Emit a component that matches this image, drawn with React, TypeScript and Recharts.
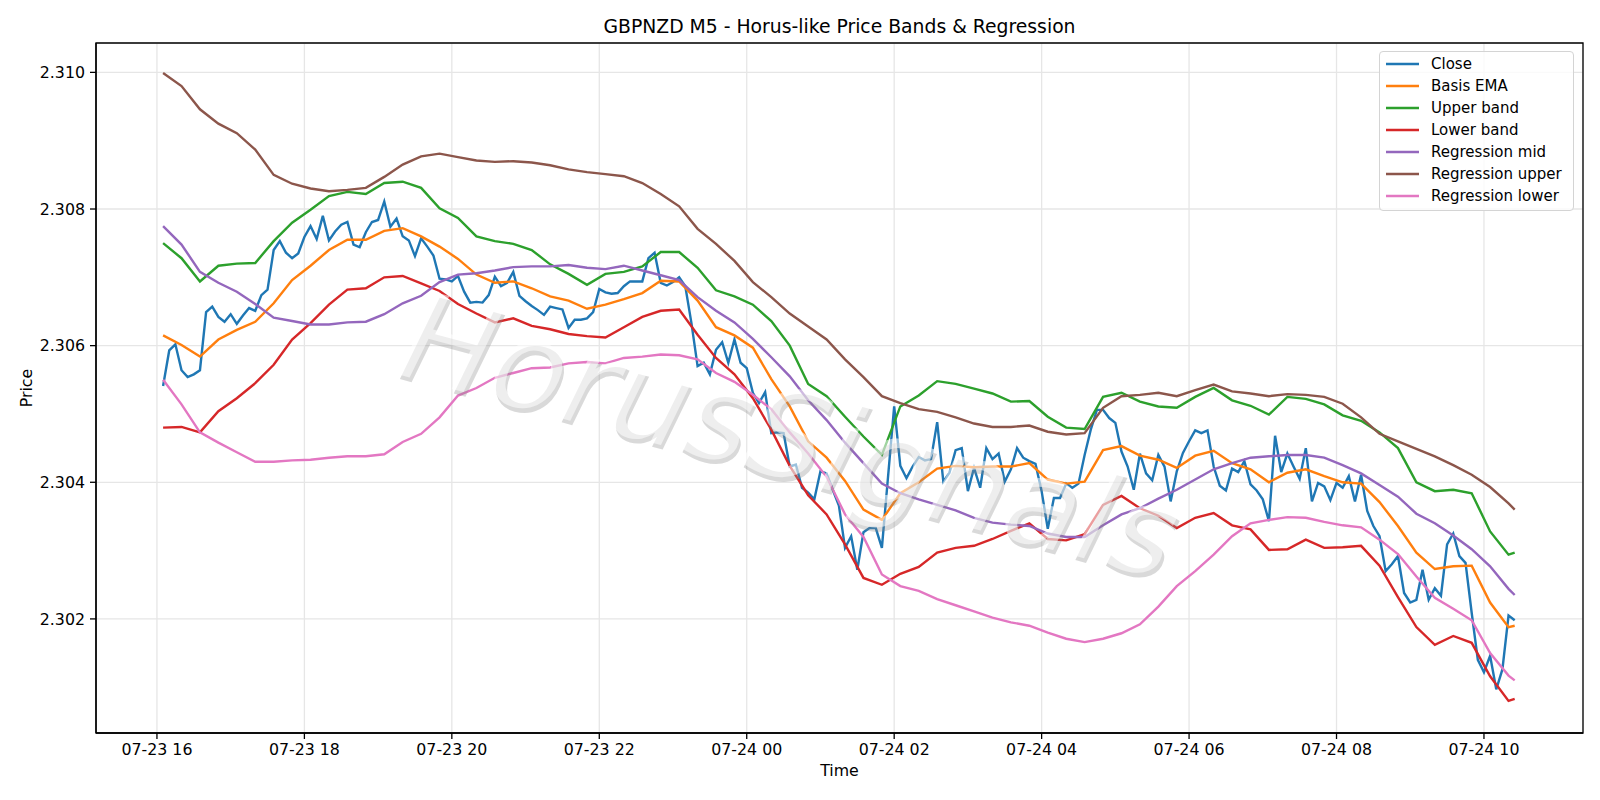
import { CartesianGrid, Legend, Line, LineChart, ReferenceArea, XAxis, YAxis } from "recharts";

// M5 closes, one per bar from 07-23 16:05 (bar 1) to 07-24 10:25 (bar 221)
const closeValues = [
  2.30541, 2.30593, 2.30602, 2.30564, 2.30554, 2.30558, 2.30564, 2.30649, 2.30657, 2.30642,
  2.30635, 2.30646, 2.30632, 2.30644, 2.30655, 2.30651, 2.30674, 2.30682, 2.3074, 2.30753,
  2.30736, 2.30728, 2.30735, 2.30759, 2.30775, 2.30756, 2.3079, 2.30754, 2.30767, 2.30777,
  2.30781, 2.30748, 2.30744, 2.30766, 2.30781, 2.30784, 2.30811, 2.30774, 2.30786, 2.3076,
  2.30754, 2.30731, 2.30757, 2.30745, 2.30732, 2.30698, 2.30697, 2.30694, 2.30702, 2.30679,
  2.30663, 2.30664, 2.30663, 2.30674, 2.30701, 2.30687, 2.30692, 2.30708, 2.30673, 2.30665,
  2.30658, 2.30652, 2.30645, 2.30657, 2.30655, 2.30653, 2.30626, 2.30638, 2.30638, 2.3064,
  2.30649, 2.30683, 2.30678, 2.30676, 2.30677, 2.30687, 2.30694, 2.30694, 2.30694, 2.30728,
  2.30736, 2.30692, 2.30688, 2.30693, 2.307, 2.30687, 2.30633, 2.3057, 2.30575, 2.30558,
  2.30594, 2.30605, 2.30575, 2.30609, 2.30575, 2.30567, 2.30531, 2.30516, 2.30532, 2.30472,
  2.30473, 2.30472, 2.30423, 2.30426, 2.30392, 2.30385, 2.30375, 2.30416, 2.30413, 2.30389,
  2.30366, 2.30304, 2.30321, 2.30272, 2.30327, 2.30333, 2.30333, 2.30304, 2.30408, 2.30511,
  2.30424, 2.30406, 2.30423, 2.30437, 2.30432, 2.30434, 2.30488, 2.30401, 2.30414, 2.30447,
  2.3045, 2.30387, 2.30421, 2.30392, 2.3045, 2.30434, 2.30442, 2.30401, 2.30419, 2.3045,
  2.30436, 2.30431, 2.30427, 2.30387, 2.30332, 2.30377, 2.30377, 2.30398, 2.30392, 2.30398,
  2.3044, 2.30477, 2.30506, 2.30506, 2.30494, 2.30487, 2.30445, 2.30423, 2.30389, 2.30442,
  2.30413, 2.30403, 2.3044, 2.30423, 2.30372, 2.30416, 2.30443, 2.3046, 2.30476, 2.30472,
  2.30476, 2.30423, 2.30395, 2.30388, 2.3042, 2.30415, 2.30431, 2.30397, 2.30388, 2.30375,
  2.30343, 2.30468, 2.30415, 2.30442, 2.30423, 2.30405, 2.3045, 2.30372, 2.30399, 2.30394,
  2.30374, 2.30399, 2.30392, 2.30409, 2.30372, 2.30411, 2.30358, 2.30336, 2.30321, 2.3027,
  2.3028, 2.30292, 2.30238, 2.30224, 2.30228, 2.30272, 2.30228, 2.30245, 2.30234, 2.30309,
  2.30325, 2.30292, 2.30282, 2.30209, 2.3014, 2.30122, 2.30146, 2.30097, 2.30126, 2.30205,
  2.30198,
];

// bar numbers at which the smooth band / regression lines were read
const bandBars = [
  1, 4, 7, 10, 13, 16, 19, 22, 25, 28, 31, 34, 37, 40, 43, 46, 49, 52, 55, 58,
  61, 64, 67, 70, 73, 76, 79, 82, 85, 88, 91, 94, 97, 100, 103, 106, 109, 112, 115, 118,
  121, 124, 127, 130, 133, 136, 139, 142, 145, 148, 151, 154, 157, 160, 163, 166, 169, 172, 175, 178,
  181, 184, 187, 190, 193, 196, 199, 202, 205, 208, 211, 214, 217, 220, 221,
];

const basisEma = [
  2.30615, 2.30601, 2.30584, 2.30609, 2.30623, 2.30635, 2.30662, 2.30696, 2.30717, 2.3074,
  2.30755, 2.30755, 2.30768, 2.30772, 2.3076, 2.30745, 2.30727, 2.30704, 2.30692, 2.30694,
  2.30684, 2.30672, 2.30666, 2.30654, 2.3066, 2.30668, 2.30677, 2.30695, 2.30694, 2.30666,
  2.30627, 2.30615, 2.30597, 2.30551, 2.30511, 2.3046, 2.30436, 2.30402, 2.3036, 2.30345,
  2.30384, 2.304, 2.3042, 2.30424, 2.30422, 2.30423, 2.30423, 2.30428, 2.30404, 2.30398,
  2.30401, 2.30447, 2.30453, 2.30439, 2.30433, 2.30421, 2.30439, 2.30446, 2.30428, 2.30419,
  2.304, 2.30414, 2.30419, 2.30409, 2.304, 2.30398, 2.30371, 2.30336, 2.30297, 2.30273,
  2.30277, 2.30278, 2.30224, 2.30188, 2.3019,
];

const upperBand = [
  2.3075, 2.30728, 2.30694, 2.30717, 2.3072, 2.30721, 2.30753, 2.3078, 2.30799, 2.30819,
  2.30825, 2.30822, 2.30838, 2.3084, 2.30831, 2.30801, 2.30787, 2.3076, 2.30753, 2.30749,
  2.3074, 2.30719, 2.30705, 2.30689, 2.30705, 2.30708, 2.30716, 2.30737, 2.30737, 2.30714,
  2.30681, 2.30672, 2.3066, 2.30636, 2.306, 2.30544, 2.30526, 2.30496, 2.30467, 2.3044,
  2.30511, 2.30527, 2.30548, 2.30544, 2.30537, 2.3053, 2.30518, 2.30519, 2.30496, 2.3048,
  2.30478, 2.30525, 2.30531, 2.30518, 2.30511, 2.30509, 2.30525, 2.30538, 2.3052, 2.30512,
  2.30499, 2.30525, 2.30522, 2.30514, 2.30498, 2.3049, 2.30473, 2.3045, 2.304, 2.30387,
  2.30389, 2.30384, 2.30328, 2.30294, 2.30297,
];

const lowerBand = [
  2.3048, 2.30481, 2.30473, 2.30504, 2.30523, 2.30545, 2.30572, 2.30609, 2.30633, 2.3066,
  2.30682, 2.30684, 2.307, 2.30702, 2.30691, 2.3068, 2.30661, 2.30647, 2.30634, 2.3064,
  2.30629, 2.30624, 2.30617, 2.30614, 2.30612, 2.30627, 2.30642, 2.30651, 2.30653, 2.30616,
  2.30582, 2.30558, 2.30523, 2.30477, 2.30424, 2.30381, 2.30353, 2.30309, 2.3026, 2.3025,
  2.30266, 2.30276, 2.30297, 2.30304, 2.30307, 2.30317, 2.30329, 2.3034, 2.30317, 2.30315,
  2.30324, 2.30367, 2.3038, 2.30362, 2.30351, 2.30333, 2.30348, 2.30355, 2.30337, 2.30331,
  2.30301, 2.30302, 2.30316, 2.30304, 2.30305, 2.30307, 2.30278, 2.30232, 2.30188, 2.30162,
  2.30175, 2.30165, 2.30116, 2.3008, 2.30083,
];

const regressionMid = [
  2.30775, 2.30748, 2.30708, 2.30692, 2.30679, 2.30661, 2.30641, 2.30636, 2.30631, 2.30631,
  2.30634, 2.30635, 2.30646, 2.30662, 2.30673, 2.30693, 2.30704, 2.30706, 2.3071, 2.30715,
  2.30716, 2.30716, 2.30718, 2.30714, 2.30712, 2.30717, 2.3071, 2.30703, 2.30696, 2.30671,
  2.30651, 2.30634, 2.3061, 2.30583, 2.30555, 2.3052, 2.30491, 2.30458, 2.30428, 2.30398,
  2.30384, 2.30375, 2.30367, 2.30359, 2.30348, 2.30341, 2.30338, 2.30336, 2.30325, 2.3032,
  2.3032, 2.30337, 2.30353, 2.30362, 2.30376, 2.30389, 2.30404, 2.30419, 2.30428, 2.30436,
  2.30438, 2.3044, 2.3044, 2.30436, 2.30425, 2.30413, 2.30396, 2.30379, 2.30354, 2.3034,
  2.30322, 2.30302, 2.30277, 2.30244, 2.30235,
];

const regressionUpper = [
  2.30999, 2.3098, 2.30946, 2.30925, 2.30911, 2.30887, 2.3085, 2.30837, 2.3083, 2.30826,
  2.30828, 2.30831, 2.30847, 2.30865, 2.30877, 2.30881, 2.30876, 2.30871, 2.30869, 2.3087,
  2.30868, 2.30864, 2.30858, 2.30854, 2.30851, 2.30848, 2.30838, 2.30822, 2.30804, 2.30771,
  2.30749, 2.30724, 2.30693, 2.30671, 2.30647, 2.30628, 2.30609, 2.3058, 2.30554, 2.30526,
  2.30516, 2.30507, 2.30503, 2.30495, 2.30486, 2.30481, 2.30481, 2.30483, 2.30474, 2.3047,
  2.30472, 2.30509, 2.30526, 2.30528, 2.30531, 2.30526, 2.30535, 2.30543, 2.30533, 2.3053,
  2.30526, 2.30529, 2.30528, 2.30525, 2.30515, 2.30495, 2.30471, 2.3046, 2.30449, 2.30438,
  2.30425, 2.30411, 2.30393, 2.30369, 2.3036,
];

const regressionLower = [
  2.3055, 2.30514, 2.30473, 2.30458, 2.30444, 2.3043, 2.3043, 2.30432, 2.30433, 2.30436,
  2.30438, 2.30438, 2.30441, 2.30459, 2.30471, 2.30495, 2.30527, 2.30538, 2.30553, 2.3056,
  2.30567, 2.30568, 2.30574, 2.30576, 2.30574, 2.30582, 2.30584, 2.30587, 2.30586, 2.3058,
  2.3056, 2.30547, 2.30528, 2.30507, 2.30473, 2.30442, 2.30408, 2.30353, 2.3032, 2.30265,
  2.30248, 2.30241, 2.30229, 2.3022, 2.30211, 2.30202, 2.30195, 2.3019, 2.3018, 2.30171,
  2.30166, 2.30171, 2.30179, 2.30192, 2.30218, 2.30248, 2.3027, 2.30294, 2.30321, 2.3034,
  2.30345, 2.30349, 2.30348, 2.30342, 2.30337, 2.30334, 2.30316, 2.30295, 2.30262, 2.30231,
  2.30215, 2.30198, 2.3015, 2.30117, 2.3011,
];

// x is minutes after 07-23 16:00
const xTicks = [0, 120, 240, 360, 480, 600, 720, 840, 960, 1080];
const xTickLabels = [
  "07-23 16", "07-23 18", "07-23 20", "07-23 22", "07-24 00",
  "07-24 02", "07-24 04", "07-24 06", "07-24 08", "07-24 10",
];
const yTicks = [2.302, 2.304, 2.306, 2.308, 2.31];

const BAR_MINUTES = 5;
const X_DOMAIN: [number, number] = [-49.6, 1160.6];
const Y_DOMAIN: [number, number] = [2.30033, 2.31043];
const FONT = '"DejaVu Sans", "Liberation Sans", sans-serif';

const closeData = closeValues.map((close, i) => ({ t: (i + 1) * BAR_MINUTES, close }));
const bandData = bandBars.map((bar, i) => ({
  t: bar * BAR_MINUTES,
  basis: basisEma[i],
  upper: upperBand[i],
  lower: lowerBand[i],
  regMid: regressionMid[i],
  regUpper: regressionUpper[i],
  regLower: regressionLower[i],
}));

const series = [
  { key: "close", name: "Close", color: "#1f77b4", data: closeData },
  { key: "basis", name: "Basis EMA", color: "#ff7f0e", data: bandData },
  { key: "upper", name: "Upper band", color: "#2ca02c", data: bandData },
  { key: "lower", name: "Lower band", color: "#d62728", data: bandData },
  { key: "regMid", name: "Regression mid", color: "#9467bd", data: bandData },
  { key: "regUpper", name: "Regression upper", color: "#8c564b", data: bandData },
  { key: "regLower", name: "Regression lower", color: "#e377c2", data: bandData },
];

const spine = { stroke: "#000", strokeWidth: 1.3 };
const tickStyle = { fill: "#000", fontSize: 15.8, fontFamily: FONT };

const LegendBox = () => (
  <div
    style={{
      boxSizing: "border-box",
      width: 195,
      height: 160,
      paddingTop: 1,
      background: "rgba(255,255,255,0.8)",
      border: "1px solid #d4d4d4",
      borderRadius: 4,
      fontFamily: FONT,
      fontSize: 15,
      color: "#000",
    }}
  >
    {series.map((s) => (
      <div key={s.key} style={{ display: "flex", alignItems: "center", height: 22 }}>
        <svg width={45} height={22} style={{ flex: "none" }}>
          <line x1={6} x2={39} y1={11} y2={11} stroke={s.color} strokeWidth={2.4} />
        </svg>
        <span style={{ marginLeft: 6, whiteSpace: "nowrap" }}>{s.name}</span>
      </div>
    ))}
  </div>
);

const Watermark = () => (
  <g transform="translate(790 436) rotate(15)" style={{ fontFamily: FONT, fontStyle: "italic" }}>
    <text x={3} y={4} textAnchor="middle" dominantBaseline="central" fontSize={122} fill="#888" fillOpacity={0.32}>
      HorusSignals
    </text>
    <text x={0} y={0} textAnchor="middle" dominantBaseline="central" fontSize={122} fill="#fff" fillOpacity={0.55}>
      HorusSignals
    </text>
  </g>
);

const App = () => {
  return (
    <div style={{ position: "absolute", left: 0, top: 0, width: 1600, height: 800, background: "#fff", fontFamily: FONT }}>
      <LineChart width={1600} height={800} margin={{ top: 43, right: 17, bottom: 0, left: 0 }}>
        <CartesianGrid stroke="#e6e6e6" strokeWidth={1.3} />
        <XAxis
          type="number"
          dataKey="t"
          domain={X_DOMAIN}
          allowDataOverflow
          ticks={xTicks}
          tickFormatter={(v: number) => xTickLabels[xTicks.indexOf(v)] ?? ""}
          height={67}
          tick={tickStyle}
          tickLine={spine}
          axisLine={spine}
          tickSize={6}
          tickMargin={5}
          interval={0}
        />
        <YAxis
          type="number"
          domain={Y_DOMAIN}
          allowDataOverflow
          ticks={yTicks}
          tickFormatter={(v: number) => v.toFixed(3)}
          width={96}
          tick={tickStyle}
          tickLine={spine}
          axisLine={spine}
          tickSize={6}
          tickMargin={5}
          interval={0}
        />
        {series.map((s) => (
          <Line
            key={s.key}
            data={s.data}
            dataKey={s.key}
            name={s.name}
            type="linear"
            stroke={s.color}
            strokeWidth={2.4}
            dot={false}
            activeDot={false}
            isAnimationActive={false}
          />
        ))}
        {/* axes frame (top and right spines) */}
        <ReferenceArea
          x1={X_DOMAIN[0]}
          x2={X_DOMAIN[1]}
          y1={Y_DOMAIN[0]}
          y2={Y_DOMAIN[1]}
          fill="none"
          fillOpacity={0}
          stroke="#000"
          strokeWidth={1.3}
          ifOverflow="extendDomain"
        />
        <Legend
          layout="vertical"
          align="center"
          verticalAlign="middle"
          content={() => <LegendBox />}
          wrapperStyle={{ left: 1379, top: 51, width: 195, height: 160 }}
        />
      </LineChart>
      <svg
        width={1600}
        height={800}
        style={{ position: "absolute", left: 0, top: 0, pointerEvents: "none" }}
        fontFamily={FONT}
      >
        <Watermark />
        <text x={839.5} y={33} textAnchor="middle" fontSize={18.8} fill="#000">
          GBPNZD M5 - Horus-like Price Bands &amp; Regression
        </text>
        <text x={839.5} y={776} textAnchor="middle" fontSize={15.8} fill="#000">
          Time
        </text>
        <text transform="translate(32 388) rotate(-90)" textAnchor="middle" fontSize={15.8} fill="#000">
          Price
        </text>
      </svg>
    </div>
  );
};

export default App;
